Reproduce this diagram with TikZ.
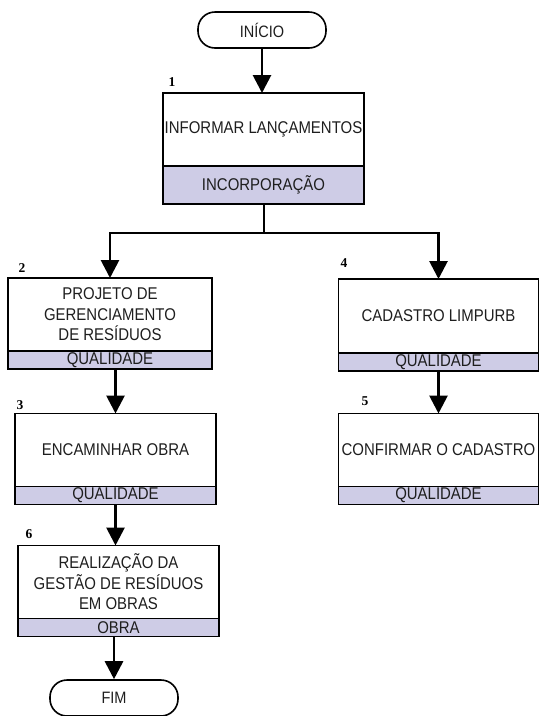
\documentclass[tikz,border=0pt]{standalone}
\usepackage{fontspec}
\setmainfont{Liberation Sans}[FakeStretch=0.88]
\newfontfamily\numfont{Liberation Serif}
\usepackage{tikz}
\usetikzlibrary{arrows.meta,positioning}

\definecolor{bandcolor}{RGB}{206,204,230}
\definecolor{inkcolor}{RGB}{30,30,30}

\tikzset{
	terminal/.style = {draw, line width=1.6pt, rounded corners=17pt, minimum width=128pt, minimum height=36pt, inner sep=0pt, text=inkcolor, font=\fontsize{16.5}{18}\selectfont},
	task/.style = {draw, line width=1.3pt, minimum width=201pt, minimum height=73pt, align=center, inner sep=0pt, outer sep=0pt, text=inkcolor, font=\fontsize{17}{20.5}\selectfont},
	band/.style = {draw, line width=1.3pt, fill=bandcolor, minimum width=201pt, minimum height=18pt, inner sep=0pt, outer sep=0pt, below=0pt of #1, text=inkcolor, font=\fontsize{17}{18}\selectfont},
	flow/.style = {line width=2.8pt, -{Triangle[width=18pt,length=18pt]}},
	trunk/.style = {line width=2pt},
	stepnum/.style = {font=\numfont\bfseries\fontsize{13.5}{13.5}\selectfont}
}

\begin{document}
\begin{tikzpicture}[x=1pt, y=-1pt]
	\useasboundingbox (0,0) rectangle (539,716);

	\node[terminal] (start) at (262,30) {INÍCIO};

	\node[task] (t1) at (263.5,129.5) {INFORMAR LANÇAMENTOS};
	\node[band=t1, minimum height=38pt] (b1) {INCORPORAÇÃO};

	\node[task, minimum width=204pt] (t2) at (110,314.5) {PROJETO DE\\GERENCIAMENTO\\DE RESÍDUOS};
	\node[band=t2, minimum width=204pt] (b2) {QUALIDADE};

	\node[task] (t3) at (115.5,450) {ENCAMINHAR OBRA};
	\node[band=t3] (b3) {QUALIDADE};

	\node[task, minimum width=200pt, minimum height=74pt] (t4) at (438.5,316) {CADASTRO LIMPURB};
	\node[band=t4, minimum width=200pt] (b4) {QUALIDADE};

	\node[task, minimum width=200pt] (t5) at (438.5,450) {CONFIRMAR O CADASTRO};
	\node[band=t5, minimum width=200pt] (b5) {QUALIDADE};

	\node[task] (t6) at (118.5,582) {REALIZAÇÃO DA\\GESTÃO DE RESÍDUOS\\EM OBRAS};
	\node[band=t6] (b6) {OBRA};

	\node[terminal] (fim) at (114,698) {FIM};

	% step numbers
	\node[stepnum] (n1) at (172,82) {1};
	\node[stepnum] (n2) at (22,268) {2};
	\node[stepnum] (n3) at (20,405) {3};
	\node[stepnum] (n4) at (344,263) {4};
	\node[stepnum] (n5) at (365,401) {5};
	\node[stepnum] (n6) at (29,534) {6};

	\coordinate (split) at (263.5,233);

	\draw[flow] (start.south) -- (start.south |- t1.north);
	\draw[trunk] (b1.south) -- (split);
	\draw[flow] (split) -| (t2.north);
	\draw[flow] (split) -| (t4.north);
	\draw[flow] (b2.south -| t3.north) -- (t3.north);
	\draw[flow] (b3.south) -- (b3.south |- t6.north);
	\draw[flow] (b6.south -| fim.north) -- (fim.north);
	\draw[flow] (b4.south) -- (t5.north);
\end{tikzpicture}
\end{document}
